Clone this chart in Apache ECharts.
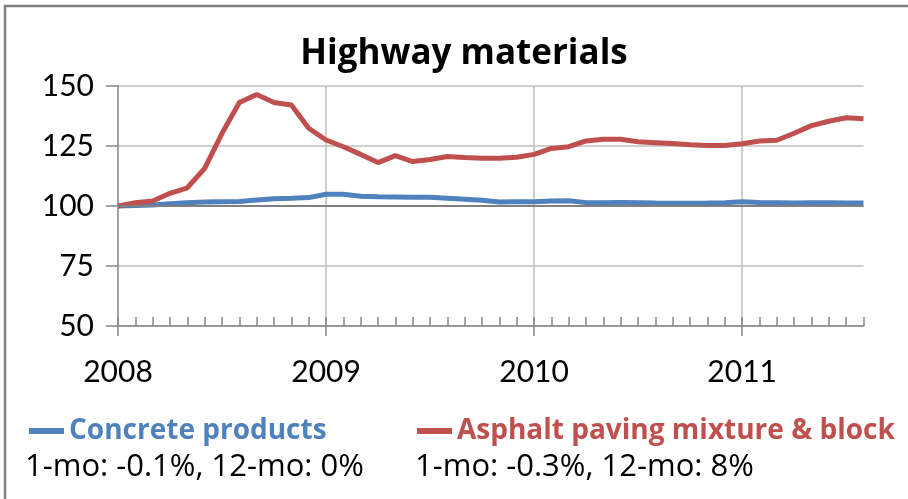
<!DOCTYPE html>
<html>
<head>
<meta charset="utf-8">
<script src="https://cdn.jsdelivr.net/npm/echarts@6/dist/echarts.min.js"></script>
<style>
  html, body { margin: 0; padding: 0; background: #fff; }
  #chart { width: 908px; height: 499px; }
</style>
</head>
<body>
<div id="chart"></div>
<script>
// Monthly index values, Jan 2008 = 100, Jan 2008 through Aug 2011
const years = ['2008', '2009', '2010', '2011'];
const monthsPerYear = 12;
const concreteProducts = [
  100.0, 100.2, 100.4, 100.9, 101.4, 101.7, 101.8, 101.9, 102.5, 103.0, 103.2, 103.5,
  104.9, 104.9, 104.1, 103.9, 103.8, 103.6, 103.6, 103.2, 102.8, 102.4, 101.7, 101.8,
  101.8, 102.1, 102.2, 101.4, 101.4, 101.5, 101.4, 101.2, 101.1, 101.1, 101.2, 101.4,
  101.8, 101.5, 101.4, 101.2, 101.4, 101.4, 101.2, 101.2
];
const asphaltPaving = [
  100.0, 101.4, 102.1, 105.3, 107.6, 115.7, 130.3, 143.1, 146.5, 143.1, 142.1, 132.4,
  127.5, 124.7, 121.5, 118.1, 121.0, 118.5, 119.4, 120.6, 120.2, 119.9, 119.9, 120.3,
  121.5, 124.0, 124.7, 127.1, 127.8, 127.8, 126.8, 126.4, 126.0, 125.5, 125.2, 125.2,
  125.9, 127.1, 127.4, 130.3, 133.5, 135.3, 136.8, 136.4
];
const yTicks = { min: 50, max: 150, step: 25 };
const baseline = 100;
const seriesNames = ['Concrete products', 'Asphalt paving mixture & block'];
const changeNotes = ['1-mo: -0.1%, 12-mo: 0%', '1-mo: -0.3%, 12-mo: 8%'];

// one category per month, labelled with the year in January
const months = [];
for (let i = 0; i < concreteProducts.length; i++) {
  const y = years[Math.floor(i / monthsPerYear)];
  months.push(i % monthsPerYear === 0 ? y : y + '-' + (i % monthsPerYear + 1));
}
const isYearStart = (idx) => idx % monthsPerYear === 0;

const BLUE = '#4F81BD';
const RED = '#C0504D';
const AXIS = '#868686';
const GRID = '#BFBFBF';
const NUM_FONT = 'Lato';
const TEXT_FONT = 'Open Sans';

const chart = echarts.init(document.getElementById('chart'), null, { renderer: 'canvas' });

chart.setOption({
  animation: false,
  backgroundColor: '#ffffff',
  title: {
    text: 'Highway materials',
    left: 459,
    textAlign: 'center',
    top: 32,
    textStyle: { fontFamily: TEXT_FONT, fontWeight: 'bold', fontSize: 35, color: '#000' }
  },
  grid: { left: 118, right: 44.5, top: 86, bottom: 173, containLabel: false },
  xAxis: [
    {
      type: 'category',
      data: months,
      boundaryGap: false,
      axisLine: { show: true, lineStyle: { color: AXIS, width: 1.5 } },
      axisTick: { show: true, inside: true, interval: 0, length: 9, lineStyle: { color: AXIS, width: 1.5 } },
      axisLabel: {
        interval: (idx) => isYearStart(idx),
        formatter: (v) => v,
        margin: 31,
        fontFamily: NUM_FONT, fontSize: 30, color: '#000'
      },
      splitLine: { show: true, interval: (idx) => isYearStart(idx) && idx > 0, lineStyle: { color: GRID, width: 1.5 } }
    },
    {
      // year marks extending below the axis
      type: 'category',
      data: months,
      boundaryGap: false,
      position: 'bottom',
      axisLine: { show: false },
      axisTick: { show: true, inside: false, interval: (idx) => isYearStart(idx), length: 10, lineStyle: { color: AXIS, width: 1.5 } },
      axisLabel: { show: false },
      splitLine: { show: false }
    }
  ],
  yAxis: {
    type: 'value',
    min: yTicks.min,
    max: yTicks.max,
    interval: yTicks.step,
    axisLine: { show: true, lineStyle: { color: AXIS, width: 1.5 } },
    axisTick: { show: true, inside: false, length: 12, lineStyle: { color: AXIS, width: 1.5 } },
    axisLabel: { margin: 24, fontFamily: NUM_FONT, fontSize: 30, color: '#000' },
    splitLine: { show: true, lineStyle: { color: GRID, width: 1.5 } }
  },
  legend: [
    {
      data: [{ name: seriesNames[0], textStyle: { color: BLUE } }],
      left: 24, top: 412,
      icon: 'rect', itemWidth: 35, itemHeight: 6, itemGap: 10,
      textStyle: { fontFamily: TEXT_FONT, fontWeight: 'bold', fontSize: 28, padding: [0, 0, 0, 0] }
    },
    {
      data: [{ name: seriesNames[1], textStyle: { color: RED } }],
      left: 412, top: 412,
      icon: 'rect', itemWidth: 35, itemHeight: 6, itemGap: 10,
      textStyle: { fontFamily: TEXT_FONT, fontWeight: 'bold', fontSize: 28, padding: [0, 0, 0, 0] }
    }
  ],
  graphic: [
    {
      type: 'rect', silent: true, z: -1,
      shape: { x: 5, y: 6, width: 930, height: 520 },
      style: { fill: 'none', stroke: '#808080', lineWidth: 2.5 }
    },
    {
      type: 'text', left: 25, top: 452,
      style: { text: changeNotes[0], fontFamily: TEXT_FONT, fontSize: 31, fill: '#000' }
    },
    {
      type: 'text', left: 415, top: 452,
      style: { text: changeNotes[1], fontFamily: TEXT_FONT, fontSize: 31, fill: '#000' }
    }
  ],
  series: [
    {
      // reference level at the base index
      name: 'base',
      type: 'line',
      data: [],
      z: 1,
      silent: true,
      markLine: {
        silent: true,
        symbol: 'none',
        label: { show: false },
        lineStyle: { color: '#808080', width: 2, type: 'solid' },
        data: [{ yAxis: baseline }]
      }
    },
    {
      name: seriesNames[0],
      type: 'line',
      data: concreteProducts,
      z: 3,
      showSymbol: false,
      symbol: 'none',
      lineStyle: { color: BLUE, width: 5 },
      itemStyle: { color: BLUE }
    },
    {
      name: seriesNames[1],
      type: 'line',
      data: asphaltPaving,
      z: 3,
      showSymbol: false,
      symbol: 'none',
      lineStyle: { color: RED, width: 5 },
      itemStyle: { color: RED }
    }
  ]
});
</script>
</body>
</html>
